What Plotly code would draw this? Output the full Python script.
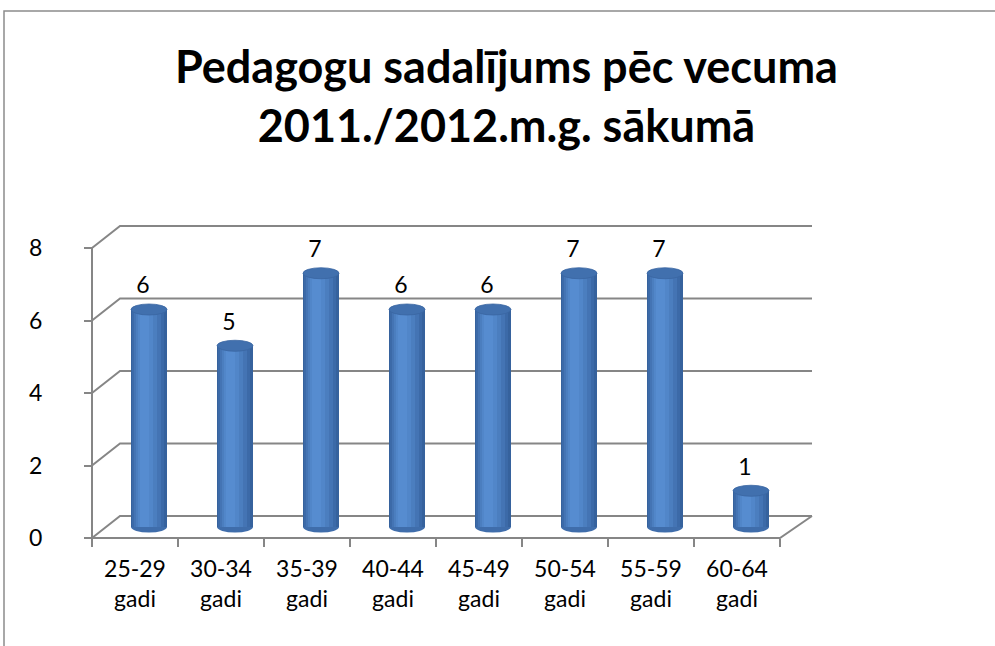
import plotly.graph_objects as go

# Teacher counts by age group at the start of the 2011/2012 school year
age_groups = ["25-29<br>gadi", "30-34<br>gadi", "35-39<br>gadi", "40-44<br>gadi",
              "45-49<br>gadi", "50-54<br>gadi", "55-59<br>gadi", "60-64<br>gadi"]
teachers = [6, 5, 7, 6, 6, 7, 7, 1]
y_ticks = [0, 2, 4, 6, 8]

W, H = 995, 646
FONT = "Lato"
GRID = "#868686"

# pixel scale of the front plane: category step and value step
PX_X, PX_Y = 86.0, 36.25
AX_LEFT_PX, AX_BOTTOM_PX = 92.0, 538.0

# oblique depth of the 3-D box (pixels)
DEPTH_L, DEPTH_R, DEPTH_UP = 28.0, 32.0, 22.0
dxl, dxr, dyu = DEPTH_L / PX_X, DEPTH_R / PX_X, DEPTH_UP / PX_Y

n = len(teachers)
x_lo, x_hi = -0.5, n - 0.5
x_range = [x_lo - AX_LEFT_PX / PX_X, x_lo + (W - AX_LEFT_PX) / PX_X]
y_range = [-(H - AX_BOTTOM_PX) / PX_Y, AX_BOTTOM_PX / PX_Y]

shapes = []
line = dict(color=GRID, width=2)

# back wall gridlines with their side-wall diagonals
for v in y_ticks:
    shapes.append(dict(type="path", xref="x", yref="y", layer="below", line=line,
                       path=f"M {x_lo},{v} L {x_lo + dxl},{v + dyu} L {x_hi + dxr},{v + dyu}"))
# floor front edge and right diagonal
shapes.append(dict(type="path", xref="x", yref="y", layer="below", line=line,
                   path=f"M {x_lo},0 L {x_hi},0 L {x_hi + dxr},{dyu}"))
# value axis line on the front plane
shapes.append(dict(type="line", xref="x", yref="y", layer="below", line=line,
                   x0=x_lo, x1=x_lo, y0=0, y1=max(y_ticks)))

# cylinders: sit at mid depth of the box
base = dyu / 2
shift = (DEPTH_L / 2) / PX_X
half_w = 18.0 / PX_X
ell_h = 5.5 / PX_Y

for i, v in enumerate(teachers):
    cx = i + shift
    shapes.append(dict(type="circle", xref="x", yref="y", layer="below",
                       x0=cx - half_w, x1=cx + half_w, y0=base - ell_h, y1=base + ell_h,
                       fillcolor="#3f6dab", line=dict(width=0)))
    top = base + v
    shapes.append(dict(type="circle", xref="x", yref="y", layer="above",
                       x0=cx - half_w, x1=cx + half_w, y0=top - ell_h, y1=top + ell_h,
                       fillcolor="#4170ae", line=dict(color="#3a66a2", width=0.8)))

# shading layers of the cylinder body: (left offset px, width px, colour)
body_layers = [
    (0, 36, "#36629d"),
    (1, 32, "#3c6aa8"),
    (3, 27, "#4474b4"),
    (5, 21, "#4b7ebf"),
    (7, 15, "#5186c9"),
    (9, 9, "#568cd0"),
]

fig = go.Figure()
xs = list(range(n))
for left_px, w_px, col in body_layers:
    fig.add_trace(go.Bar(
        x=xs, y=teachers, base=base,
        width=w_px / PX_X, offset=shift - half_w + left_px / PX_X,
        marker=dict(color=col, line=dict(width=0)),
        hoverinfo="skip", showlegend=False,
    ))

# value labels above each cylinder
fig.add_trace(go.Scatter(
    x=[i + 8 / PX_X for i in xs], y=[base + v + 22 / PX_Y for v in teachers],
    mode="text", text=[str(v) for v in teachers],
    textfont=dict(family=FONT, size=23, color="#000000"),
    textposition="middle center", hoverinfo="skip", showlegend=False,
))

# outer chart frame
shapes.append(dict(type="path", xref="paper", yref="paper", layer="above",
                   line=dict(color="#8c8c8c", width=1.5),
                   path=f"M {4 / W},0 L {4 / W},{1 - 11 / H} L 1,{1 - 11 / H}"))

fig.update_layout(
    width=W, height=H,
    margin=dict(l=0, r=0, t=0, b=0),
    paper_bgcolor="white", plot_bgcolor="white",
    barmode="overlay",
    shapes=shapes,
    showlegend=False,
    annotations=[dict(
        text="<b>Pedagogu sadalījums pēc vecuma<br>2011./2012.m.g. sākumā</b>",
        xref="paper", yref="paper", x=506 / W, y=1 - 96 / H,
        xanchor="center", yanchor="middle", showarrow=False,
        font=dict(family=FONT, size=45, color="#000000"),
    )],
    xaxis=dict(
        range=x_range, anchor="free", position=(H - AX_BOTTOM_PX) / H,
        tickmode="array", tickvals=xs, ticktext=age_groups, ticks="",
        ticklabelstandoff=15,
        tickfont=dict(family=FONT, size=23, color="#000000"),
        minor=dict(tickmode="array", tickvals=[x_lo + k for k in range(n + 1)],
                   ticks="outside", ticklen=8, tickwidth=2, tickcolor=GRID,
                   showgrid=False),
        showgrid=False, zeroline=False, showline=False, fixedrange=True,
    ),
    yaxis=dict(
        range=y_range, anchor="free", position=AX_LEFT_PX / W,
        tickmode="array", tickvals=y_ticks, ticks="outside", ticklen=8,
        tickwidth=2, tickcolor=GRID, ticklabelstandoff=37,
        tickfont=dict(family=FONT, size=23, color="#000000"),
        showgrid=False, zeroline=False, showline=False, fixedrange=True,
    ),
)

fig.write_html("out.html")
